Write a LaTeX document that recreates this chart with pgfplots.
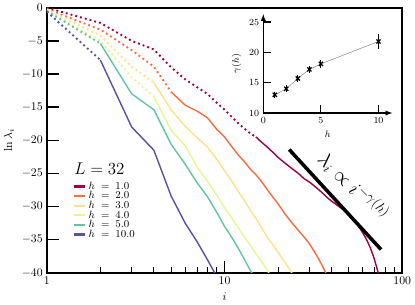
\documentclass[border=0pt]{standalone}
\usepackage{pgfplots}
\pgfplotsset{compat=1.18}
\definecolor{cA}{HTML}{9E0142}
\definecolor{cB}{HTML}{F46D43}
\definecolor{cC}{HTML}{FEE08B}
\definecolor{cD}{HTML}{E6F598}
\definecolor{cE}{HTML}{66C2A5}
\definecolor{cF}{HTML}{5E4FA2}
\pgfplotsset{
  dotpart/.style={forget plot, line width=1.6pt, dash pattern=on 1.6pt off 2.6pt},
  solidpart/.style={line width=1.2pt},
}
\begin{document}
\begin{tikzpicture}
\begin{axis}[
  scale only axis, width=303pt, height=226pt,
  xmode=log, xmin=1, xmax=100, ymin=-40, ymax=0,
  xtick={1,10,100}, xticklabels={1,10,100},
  minor xtick={2,3,4,5,6,7,8,9,20,30,40,50,60,70,80,90},
  ytick={-40,-35,-30,-25,-20,-15,-10,-5,0},
  tick align=inside, xtick pos=bottom, ytick pos=left,
  major tick length=10pt, minor tick length=5pt,
  every major tick/.style={line width=1.2pt, black},
  every minor tick/.style={line width=0.7pt, black},
  axis line style={line width=1.5pt},
  xlabel={$i$}, ylabel={$\ln\lambda_i$},
  legend style={at={(0.072,0.352)}, anchor=north west, draw=none, fill=none,
    font=\small, row sep=-3.6pt, inner sep=0pt},
  legend cell align=left,
  legend image code/.code={\draw[#1, line width=2pt] (0cm,0cm) -- (0.34cm,0cm);},
]
% h = 1.0
\addplot[cA, dotpart] coordinates {(1,0) (2,-2.3) (3,-5.0) (4,-6.3) (5,-9.0) (6,-10.8) (7,-12.0) (8,-13.0) (9,-14.3) (10,-15.4) (11,-16.5) (12,-17.5) (13,-18.3) (14,-19.0) (15,-19.5)};
\addplot[cA, solidpart] coordinates {(15,-19.5) (16,-20.2) (17,-20.8) (18,-21.4) (19,-22.0) (20,-22.6) (22,-23.5) (24,-24.3) (26,-25.0) (28,-25.8) (30,-26.3) (32,-26.9) (34,-27.5) (36,-28.1) (38,-28.7) (40,-29.2) (42,-29.6) (45,-30.2) (48,-30.7) (50,-31.1) (53,-31.8) (56,-32.7) (60,-34.0) (63,-35.0) (66,-36.2) (69,-37.6) (72,-39.3) (74,-40.5) (76,-41.5)};
\addlegendentry{$h\;=\;1.0$}
% h = 2.0
\addplot[cB, dotpart] coordinates {(1,-0.2) (2,-3.3) (3,-6.4) (4,-8.9) (5,-12.7)};
\addplot[cB, solidpart] coordinates {(5,-12.7) (6,-14.7) (7,-15.6) (8,-16.6) (9,-18.3) (10,-19.5) (11,-21.0) (12,-22.3) (13,-23.3) (14,-24.4) (15,-25.2) (16,-26.1) (18,-28.0) (20,-29.6) (22,-31.2) (24,-32.5) (26,-33.6) (28,-34.6) (30,-35.6) (32,-36.8) (34,-38.0) (36,-39.3) (38,-40.6)};
\addlegendentry{$h\;=\;2.0$}
% h = 3.0
\addplot[cC, dotpart] coordinates {(1,-0.3) (2,-4.2) (3,-8.9) (4,-11.3)};
\addplot[cC, solidpart] coordinates {(4,-11.3) (5,-15.4) (6,-17.9) (7,-19.6) (8,-21.0) (9,-22.8) (10,-24.6) (11,-26.2) (12,-27.8) (13,-29.2) (14,-30.6) (15,-31.8) (16,-33.0) (17,-34.2) (18,-35.2) (19,-36.0) (20,-36.9) (22,-38.5) (24,-40.1)};
\addlegendentry{$h\;=\;3.0$}
% h = 4.0
\addplot[cD, dotpart] coordinates {(1,-0.4) (2,-5.0) (3,-10.5) (4,-13.4)};
\addplot[cD, solidpart] coordinates {(4,-13.4) (5,-18.5) (6,-20.8) (7,-24.0) (8,-26.2) (9,-28.2) (10,-30.2) (11,-31.8) (12,-33.3) (13,-34.7) (14,-35.9) (15,-37.1) (16,-38.2) (17,-39.2) (18,-40.3)};
\addlegendentry{$h\;=\;4.0$}
% h = 5.0
\addplot[cE, dotpart] coordinates {(1,-0.5) (2,-5.4)};
\addplot[cE, solidpart] coordinates {(2,-5.4) (3,-13.0) (4,-15.4) (5,-20.6) (6,-23.6) (7,-26.4) (8,-28.5) (9,-30.8) (10,-33.0) (11,-34.7) (12,-36.4) (13,-38.1) (14,-39.7) (15,-41)};
\addlegendentry{$h\;=\;5.0$}
% h = 10.0
\addplot[cF, dotpart] coordinates {(1,-0.6) (2,-7.9)};
\addplot[cF, solidpart] coordinates {(2,-7.9) (3,-18.0) (4,-21.5) (5,-28.4) (6,-32.5) (7,-35.3) (8,-38.0) (9,-40.5)};
\addlegendentry{$h\;=\;10.0$}
\node[font=\Large] at (rel axis cs:0.148,0.393) {$L=32$};
\draw[line width=3pt] (axis cs:23.1,-21.4) -- (axis cs:76,-36.5);
\node[rotate=-45, font=\LARGE] at (axis cs:53,-27.0) {$\lambda_i \propto i^{-\gamma(h)}$};
\end{axis}
\begin{axis}[
  at={(184.5pt,136.2pt)}, anchor=south west,
  scale only axis, width=110pt, height=84.3pt,
  xmin=0, xmax=11.2, ymin=10, ymax=26.3,
  axis lines=left, axis line style={line width=1pt, -latex},
  xtick={0,5,10}, ytick={10,15,20,25},
  tick align=inside, major tick length=7pt,
  every major tick/.style={line width=1pt, black},
  tick label style={font=\footnotesize},
  label style={font=\footnotesize},
  xlabel={$h$}, ylabel={$\gamma(h)$},
]
\addplot[gray, line width=0.4pt, mark=x, mark size=2.5pt,
  mark options={black, line width=1.1pt},
  error bars/.cd, y dir=both, y explicit,
  error bar style={black, line width=0.9pt}, error mark options={black, line width=0.9pt, mark size=2pt}]
  table[x=h, y=g, y error=e] {
h g e
1 13.0 0.15
2 14.0 0.15
3 15.7 0.15
4 17.2 0.2
5 18.1 0.3
10 21.8 0.8
};
\end{axis}
\end{tikzpicture}
\end{document}
